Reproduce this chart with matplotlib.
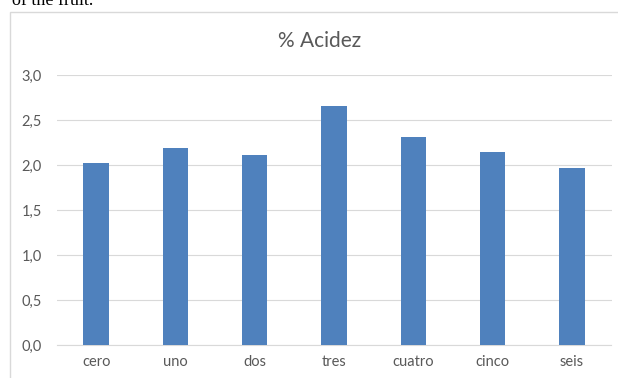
import matplotlib.pyplot as plt
from matplotlib.patches import Rectangle
from matplotlib.ticker import FuncFormatter

categorias = ["cero", "uno", "dos", "tres", "cuatro", "cinco", "seis"]
acidez = [2.02, 2.19, 2.11, 2.66, 2.31, 2.15, 1.97]
yticks = [0.0, 0.5, 1.0, 1.5, 2.0, 2.5, 3.0]

plt.rcParams['font.family'] = ['Lato', 'DejaVu Sans']

W, H = 618, 378
fig = plt.figure(figsize=(W / 100, H / 100), dpi=100)

# chart frame (runs off the right and bottom edges)
fig.patches.append(Rectangle((10 / W, -0.1), 1.0, 1 - 12 / H + 0.1,
                             transform=fig.transFigure, fill=False,
                             edgecolor="#d9d9d9", linewidth=1.0))

# tail of the caption text above the chart
fig.text(12 / W, 1 - 5 / H, "of the fruit.", family="Liberation Serif",
         fontsize=13, color="black", va="baseline", ha="left")

ax = fig.add_axes([56.5 / W, 1 - 345 / H, 555 / W, 270 / H])
x = range(len(categorias))
ax.bar(x, acidez, width=0.32, color="#4f81bd", zorder=3)

ax.set_ylim(0, 3.0)
ax.set_xlim(-0.5, len(categorias) - 0.5)
ax.set_yticks(yticks)
ax.yaxis.set_major_formatter(FuncFormatter(lambda v, p: f"{v:.1f}".replace(".", ",")))
ax.set_xticks(list(x))
ax.set_xticklabels(categorias)

ax.grid(axis="y", color="#d9d9d9", linewidth=0.8, zorder=0)
for s in ["top", "right", "left"]:
    ax.spines[s].set_visible(False)
ax.spines["bottom"].set_color("#d9d9d9")
ax.spines["bottom"].set_linewidth(0.8)
ax.tick_params(axis="both", length=0, labelsize=10.5, labelcolor="#595959")
ax.tick_params(axis="y", pad=10.5)
ax.tick_params(axis="x", pad=7)

fig.text(320 / W, 1 - 41 / H, "% Acidez", ha="center", va="center",
         fontsize=15, color="#595959")

fig.savefig("out.png", dpi=100)
